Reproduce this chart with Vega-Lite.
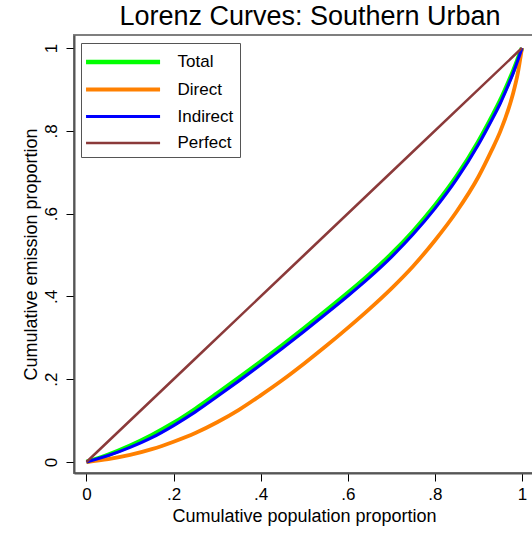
{
  "$schema": "https://vega.github.io/schema/vega-lite/v6.json",
  "width": 460,
  "height": 438,
  "autosize": {"type": "none"},
  "padding": {"left": 74, "top": 35, "right": 0, "bottom": 60},
  "background": "white",
  "title": {"text": "Lorenz Curves: Southern Urban", "fontSize": 27, "font": "Liberation Sans", "fontWeight": "normal", "color": "black", "anchor": "middle", "offset": 4, "dx": 6},
  "config": {
    "view": {"stroke": "#7f7f7f", "strokeWidth": 2},
    "axis": {"grid": false, "labelFont": "Liberation Sans", "titleFont": "Liberation Sans", "labelColor": "black", "titleColor": "black", "titleFontWeight": "normal", "labelFontSize": 17, "titleFontSize": 18, "tickColor": "black", "tickSize": 8, "domainColor": "#555", "domainWidth": 2, "labelFlush": false, "labelOverlap": false}
  },
  "data": {"values": [
    {"x": 0, "y": 0, "series": "Total"},
    {"x": 0.05, "y": 0.0175, "series": "Total"},
    {"x": 0.1, "y": 0.0393, "series": "Total"},
    {"x": 0.15, "y": 0.0648, "series": "Total"},
    {"x": 0.2, "y": 0.0941, "series": "Total"},
    {"x": 0.25, "y": 0.128, "series": "Total"},
    {"x": 0.3, "y": 0.165, "series": "Total"},
    {"x": 0.35, "y": 0.203, "series": "Total"},
    {"x": 0.4, "y": 0.242, "series": "Total"},
    {"x": 0.45, "y": 0.282, "series": "Total"},
    {"x": 0.5, "y": 0.323, "series": "Total"},
    {"x": 0.55, "y": 0.365, "series": "Total"},
    {"x": 0.6, "y": 0.408, "series": "Total"},
    {"x": 0.65, "y": 0.453, "series": "Total"},
    {"x": 0.7, "y": 0.502, "series": "Total"},
    {"x": 0.75, "y": 0.557, "series": "Total"},
    {"x": 0.8, "y": 0.619, "series": "Total"},
    {"x": 0.85, "y": 0.69, "series": "Total"},
    {"x": 0.9, "y": 0.774, "series": "Total"},
    {"x": 0.93, "y": 0.832, "series": "Total"},
    {"x": 0.95, "y": 0.873, "series": "Total"},
    {"x": 0.97, "y": 0.92, "series": "Total"},
    {"x": 0.98, "y": 0.945, "series": "Total"},
    {"x": 0.99, "y": 0.972, "series": "Total"},
    {"x": 1, "y": 1, "series": "Total"},
    {"x": 0, "y": 0, "series": "Direct"},
    {"x": 0.05, "y": 0.007, "series": "Direct"},
    {"x": 0.1, "y": 0.017, "series": "Direct"},
    {"x": 0.15, "y": 0.031, "series": "Direct"},
    {"x": 0.2, "y": 0.049, "series": "Direct"},
    {"x": 0.25, "y": 0.07, "series": "Direct"},
    {"x": 0.3, "y": 0.096, "series": "Direct"},
    {"x": 0.35, "y": 0.126, "series": "Direct"},
    {"x": 0.4, "y": 0.161, "series": "Direct"},
    {"x": 0.45, "y": 0.198, "series": "Direct"},
    {"x": 0.5, "y": 0.238, "series": "Direct"},
    {"x": 0.55, "y": 0.28, "series": "Direct"},
    {"x": 0.6, "y": 0.324, "series": "Direct"},
    {"x": 0.65, "y": 0.37, "series": "Direct"},
    {"x": 0.7, "y": 0.419, "series": "Direct"},
    {"x": 0.75, "y": 0.473, "series": "Direct"},
    {"x": 0.8, "y": 0.535, "series": "Direct"},
    {"x": 0.85, "y": 0.605, "series": "Direct"},
    {"x": 0.9, "y": 0.689, "series": "Direct"},
    {"x": 0.93, "y": 0.752, "series": "Direct"},
    {"x": 0.95, "y": 0.798, "series": "Direct"},
    {"x": 0.97, "y": 0.856, "series": "Direct"},
    {"x": 0.98, "y": 0.892, "series": "Direct"},
    {"x": 0.99, "y": 0.937, "series": "Direct"},
    {"x": 1, "y": 1, "series": "Direct"},
    {"x": 0, "y": 0, "series": "Indirect"},
    {"x": 0.05, "y": 0.0155, "series": "Indirect"},
    {"x": 0.1, "y": 0.0353, "series": "Indirect"},
    {"x": 0.15, "y": 0.0588, "series": "Indirect"},
    {"x": 0.2, "y": 0.0881, "series": "Indirect"},
    {"x": 0.25, "y": 0.121, "series": "Indirect"},
    {"x": 0.3, "y": 0.158, "series": "Indirect"},
    {"x": 0.35, "y": 0.196, "series": "Indirect"},
    {"x": 0.4, "y": 0.235, "series": "Indirect"},
    {"x": 0.45, "y": 0.275, "series": "Indirect"},
    {"x": 0.5, "y": 0.316, "series": "Indirect"},
    {"x": 0.55, "y": 0.358, "series": "Indirect"},
    {"x": 0.6, "y": 0.401, "series": "Indirect"},
    {"x": 0.65, "y": 0.446, "series": "Indirect"},
    {"x": 0.7, "y": 0.495, "series": "Indirect"},
    {"x": 0.75, "y": 0.55, "series": "Indirect"},
    {"x": 0.8, "y": 0.612, "series": "Indirect"},
    {"x": 0.85, "y": 0.683, "series": "Indirect"},
    {"x": 0.9, "y": 0.767, "series": "Indirect"},
    {"x": 0.93, "y": 0.825, "series": "Indirect"},
    {"x": 0.95, "y": 0.866, "series": "Indirect"},
    {"x": 0.97, "y": 0.914, "series": "Indirect"},
    {"x": 0.98, "y": 0.94, "series": "Indirect"},
    {"x": 0.99, "y": 0.969, "series": "Indirect"},
    {"x": 1, "y": 1, "series": "Indirect"},
    {"x": 0, "y": 0, "series": "Perfect"},
    {"x": 0.5, "y": 0.5, "series": "Perfect"},
    {"x": 1, "y": 1, "series": "Perfect"}
  ]},
  "mark": {"type": "line", "interpolate": "monotone"},
  "encoding": {
    "x": {"field": "x", "type": "quantitative", "scale": {"domain": [-0.0287, 1.0276], "nice": false, "zero": false},
      "axis": {"values": [0, 0.2, 0.4, 0.6, 0.8, 1], "labelExpr": "datum.value == 0 ? '0' : datum.value >= 1 ? '1' : '.' + round(datum.value * 10)", "title": "Cumulative population proportion", "labelPadding": 5, "titlePadding": 5}},
    "y": {"field": "y", "type": "quantitative", "scale": {"domain": [-0.0266, 1.0314], "nice": false, "zero": false},
      "axis": {"values": [0, 0.2, 0.4, 0.6, 0.8, 1], "labelExpr": "datum.value == 0 ? '0' : datum.value >= 1 ? '1' : '.' + round(datum.value * 10)", "title": "Cumulative emission proportion", "labelAngle": -90, "labelPadding": 6, "titlePadding": 2}},
    "color": {"field": "series", "type": "nominal", "scale": {"domain": ["Total", "Direct", "Indirect", "Perfect"], "range": ["#00FF00", "#FF8000", "#0000FF", "#8B3A3A"]},
      "legend": {"orient": "none", "legendX": 7, "legendY": 8, "title": null, "symbolType": "M-1.33,0H5.72", "symbolSize": 441, "labelOffset": 64.5, "padding": 6, "rowPadding": 6, "labelFontSize": 17, "labelFont": "Liberation Sans", "labelColor": "black", "strokeColor": "#555", "fillColor": "white", "symbolOpacity": 1}},
    "strokeWidth": {"field": "series", "type": "nominal", "scale": {"domain": ["Total", "Direct", "Indirect", "Perfect"], "range": [4.5, 2.5, 3, 3]},
      "legend": {"orient": "none", "legendX": 7, "legendY": 8, "title": null, "symbolType": "M-1.33,0H5.72", "symbolSize": 441, "labelOffset": 64.5, "padding": 6, "rowPadding": 6, "labelFontSize": 17, "labelFont": "Liberation Sans", "labelColor": "black", "strokeColor": "#555", "fillColor": "white", "symbolOpacity": 1}}
  }
}
